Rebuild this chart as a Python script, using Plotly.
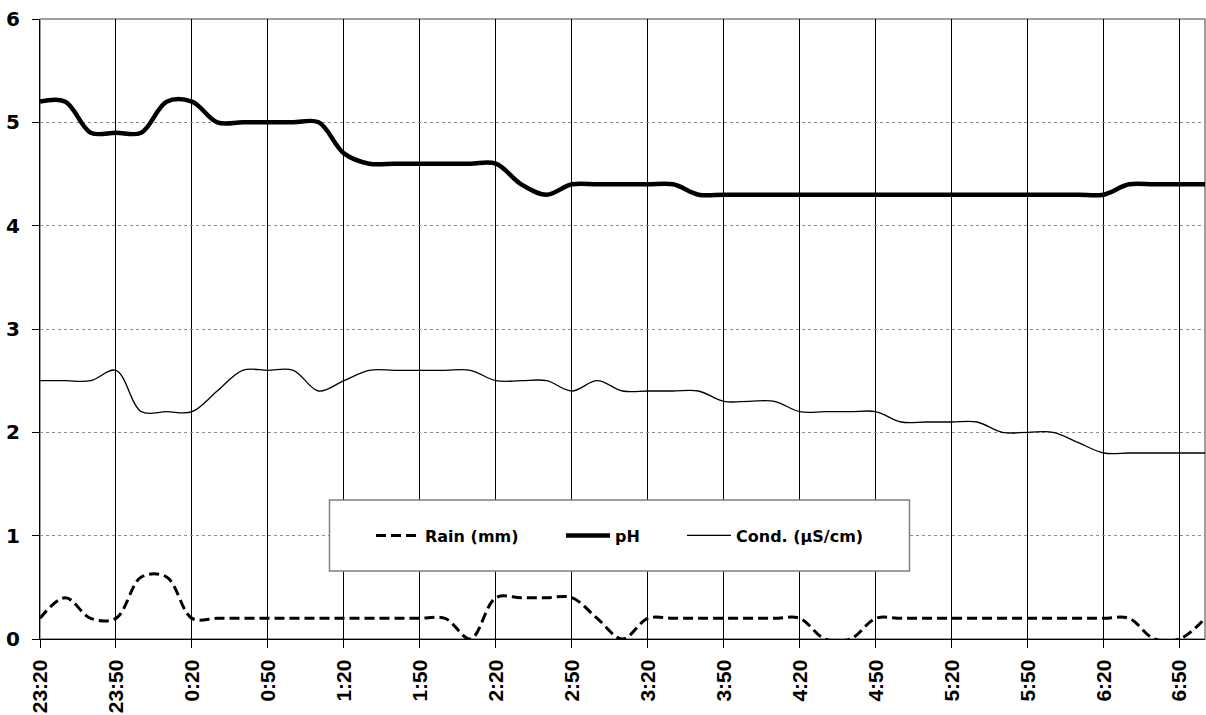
import plotly.graph_objects as go

times = ["23:20", "23:30", "23:40", "23:50", "0:00", "0:10", "0:20", "0:30", "0:40", "0:50",
         "1:00", "1:10", "1:20", "1:30", "1:40", "1:50", "2:00", "2:10", "2:20", "2:30",
         "2:40", "2:50", "3:00", "3:10", "3:20", "3:30", "3:40", "3:50", "4:00", "4:10",
         "4:20", "4:30", "4:40", "4:50", "5:00", "5:10", "5:20", "5:30", "5:40", "5:50",
         "6:00", "6:10", "6:20", "6:30", "6:40", "6:50", "7:00"]

rain = [0.2, 0.4, 0.2, 0.2, 0.6, 0.6, 0.2, 0.2, 0.2, 0.2,
        0.2, 0.2, 0.2, 0.2, 0.2, 0.2, 0.2, 0.0, 0.4, 0.4,
        0.4, 0.4, 0.2, 0.0, 0.2, 0.2, 0.2, 0.2, 0.2, 0.2,
        0.2, 0.0, 0.0, 0.2, 0.2, 0.2, 0.2, 0.2, 0.2, 0.2,
        0.2, 0.2, 0.2, 0.2, 0.0, 0.0, 0.2]

ph = [5.2, 5.2, 4.9, 4.9, 4.9, 5.2, 5.2, 5.0, 5.0, 5.0,
      5.0, 5.0, 4.7, 4.6, 4.6, 4.6, 4.6, 4.6, 4.6, 4.4,
      4.3, 4.4, 4.4, 4.4, 4.4, 4.4, 4.3, 4.3, 4.3, 4.3,
      4.3, 4.3, 4.3, 4.3, 4.3, 4.3, 4.3, 4.3, 4.3, 4.3,
      4.3, 4.3, 4.3, 4.4, 4.4, 4.4, 4.4]

cond = [2.5, 2.5, 2.5, 2.6, 2.2, 2.2, 2.2, 2.4, 2.6, 2.6,
        2.6, 2.4, 2.5, 2.6, 2.6, 2.6, 2.6, 2.6, 2.5, 2.5,
        2.5, 2.4, 2.5, 2.4, 2.4, 2.4, 2.4, 2.3, 2.3, 2.3,
        2.2, 2.2, 2.2, 2.2, 2.1, 2.1, 2.1, 2.1, 2.0, 2.0,
        2.0, 1.9, 1.8, 1.8, 1.8, 1.8, 1.8]

tick_labels = times[::3][:16]
y_ticks = [0, 1, 2, 3, 4, 5, 6]

FONT_X = "Liberation Sans"
FONT_WIDE = "DejaVu Sans"
LEG_Y = (639 - 535.5) / 620

fig = go.Figure()
fig.add_trace(go.Scatter(x=times, y=rain, name="Rain (mm)", mode="lines", legend="legend",
                         line=dict(color="black", width=3, dash="10px,5px",
                                   shape="spline", smoothing=1.0)))
fig.add_trace(go.Scatter(x=times, y=ph, name="pH", mode="lines", legend="legend2",
                         line=dict(color="black", width=4.5, shape="spline", smoothing=1.0)))
fig.add_trace(go.Scatter(x=times, y=cond, name="Cond. (µS/cm)", mode="lines", legend="legend3",
                         line=dict(color="black", width=1.3, shape="spline", smoothing=1.0)))

# plot frame (top/right in gray)
fig.add_shape(type="rect", xref="paper", yref="paper", x0=0, x1=1, y0=0, y1=1,
              line=dict(color="#808080", width=1.5), layer="below")
# legend box
fig.add_shape(type="rect", xref="paper", yref="paper",
              x0=(329.5 - 40) / 1165, x1=(909.5 - 40) / 1165,
              y0=(639 - 571) / 620, y1=(639 - 500) / 620,
              line=dict(color="#808080", width=1.5), fillcolor="white", layer="above")

leg_common = dict(orientation="h", y=LEG_Y, yanchor="middle", xanchor="left",
                  bgcolor="rgba(0,0,0,0)", borderwidth=0,
                  font=dict(size=16, family=FONT_WIDE, weight="bold"), itemwidth=44)

fig.update_layout(
    width=1206, height=715,
    margin=dict(l=40, r=1, t=19, b=76, autoexpand=False),
    paper_bgcolor="white", plot_bgcolor="white",
    font=dict(family=FONT_X, color="black"),
    showlegend=True,
    legend=dict(x=(371 - 40) / 1165, **leg_common),
    legend2=dict(x=(561 - 40) / 1165, **leg_common),
    legend3=dict(x=(682 - 40) / 1165, **leg_common),
    xaxis=dict(type="category", range=[0, len(times) - 1], automargin=False,
               tickmode="array", tickvals=tick_labels, ticktext=tick_labels,
               tickangle=-90, tickfont=dict(size=21, family=FONT_X, weight="bold"),
               ticks="outside", ticklen=8, tickcolor="black", tickwidth=1.2,
               showgrid=True, gridcolor="black", gridwidth=1.3,
               showline=True, linecolor="black", linewidth=1.3,
               zeroline=False, ticklabelstandoff=3),
    yaxis=dict(range=[0, 6], tickmode="array", tickvals=y_ticks, automargin=False,
               tickfont=dict(size=20, family=FONT_WIDE, weight="bold"),
               ticks="outside", ticklen=7, tickcolor="black", tickwidth=1.2,
               showgrid=True, gridcolor="#8c8c8c", gridwidth=1, griddash="dot",
               showline=True, linecolor="black", linewidth=1.3,
               zeroline=False, ticklabelstandoff=8),
)

fig.write_html("out.html")
